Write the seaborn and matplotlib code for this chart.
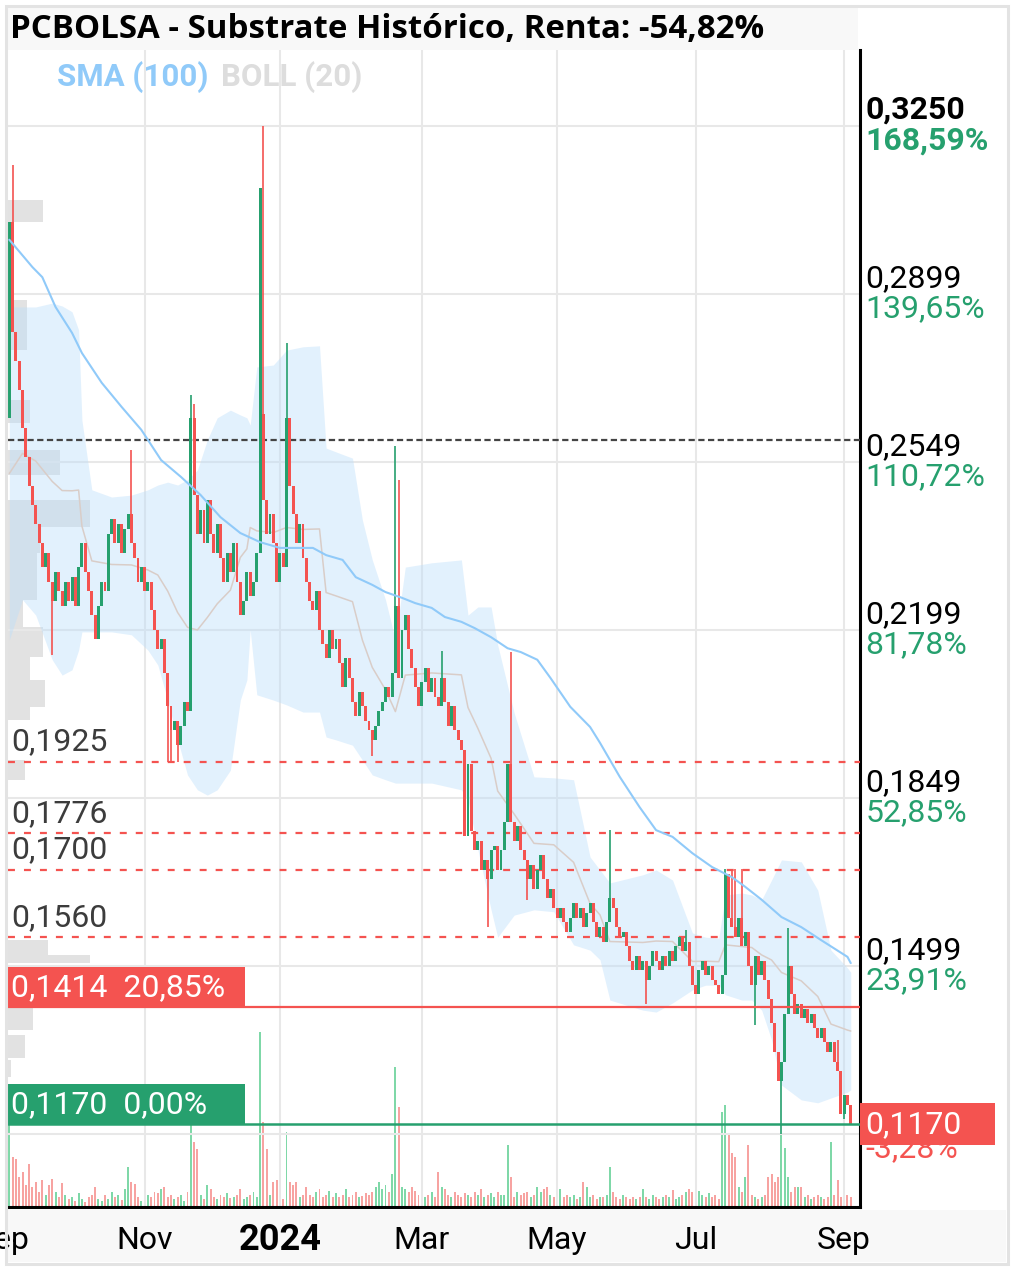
import numpy as np
import pandas as pd
import matplotlib
matplotlib.use("Agg")
import matplotlib.pyplot as plt
import seaborn as sns
from matplotlib.patches import Rectangle
from matplotlib.transforms import blended_transform_factory

# ===== Data =====
start_day = "2023-09-05"
holidays = ["2023-12-25", "2023-12-26", "2024-01-01", "2024-03-29", "2024-04-01", "2024-05-01"]

# daily closes (BME calendar, 5 Sep 2023 -> 4 Sep 2024)
close = [
    0.3050, 0.2820, 0.2760, 0.2700, 0.2620, 0.2560, 0.2500, 0.2460, 0.2420,
    0.2380, 0.2330, 0.2360, 0.2300, 0.2260, 0.2320, 0.2280, 0.2250, 0.2300, 0.2260,
    0.2310, 0.2250, 0.2330, 0.2380, 0.2320, 0.2280, 0.2230, 0.2180, 0.2250, 0.2300,
    0.2280, 0.2400, 0.2430, 0.2380, 0.2420, 0.2360, 0.2410, 0.2440, 0.2380, 0.2350,
    0.2300, 0.2330, 0.2280,
    0.2300, 0.2240, 0.2200, 0.2160, 0.2180, 0.2110, 0.2040, 0.1990, 0.2010, 0.1960,
    0.2000, 0.2050, 0.2030, 0.2640, 0.2480, 0.2400, 0.2450, 0.2380, 0.2470, 0.2400,
    0.2360, 0.2420, 0.2350, 0.2300, 0.2360, 0.2320, 0.2380, 0.2300, 0.2230, 0.2260,
    0.2320, 0.2270, 0.2300, 0.2360, 0.3120, 0.2470, 0.2400, 0.2440,
    0.2380, 0.2300, 0.2360, 0.2330, 0.2640, 0.2500, 0.2440, 0.2380, 0.2420, 0.2350,
    0.2300, 0.2260, 0.2240, 0.2280, 0.2200, 0.2170, 0.2140, 0.2200, 0.2160, 0.2180,
    0.2130, 0.2080, 0.2140, 0.2100, 0.2050, 0.2020, 0.2070, 0.2040, 0.2010, 0.1990,
    0.1970, 0.2000, 0.2030,
    0.2050, 0.2080, 0.2060, 0.2110, 0.2250, 0.2100, 0.2200, 0.2230, 0.2160, 0.2120,
    0.2080, 0.2040, 0.2090, 0.2120, 0.2070, 0.2100, 0.2060, 0.2040, 0.2100, 0.2050,
    0.2000, 0.2040, 0.1990, 0.1970, 0.1950, 0.1770, 0.1920, 0.1780, 0.1740, 0.1760,
    0.1700, 0.1720, 0.1680, 0.1740,
    0.1750, 0.1700, 0.1740, 0.1800, 0.1920, 0.1800, 0.1760, 0.1790, 0.1740, 0.1720,
    0.1680, 0.1710, 0.1660, 0.1700, 0.1730, 0.1680, 0.1640, 0.1660, 0.1620, 0.1600,
    0.1620, 0.1590, 0.1570, 0.1600, 0.1630, 0.1600, 0.1620, 0.1580, 0.1610, 0.1630,
    0.1590, 0.1560, 0.1580, 0.1550, 0.1590, 0.1640, 0.1620,
    0.1580, 0.1560, 0.1570, 0.1540, 0.1510, 0.1490, 0.1520, 0.1490, 0.1510, 0.1470,
    0.1500, 0.1530, 0.1510, 0.1490, 0.1520, 0.1500, 0.1530, 0.1510, 0.1540, 0.1560,
    0.1530, 0.1550, 0.1500, 0.1460, 0.1440, 0.1490, 0.1510, 0.1480, 0.1500, 0.1470,
    0.1460, 0.1440, 0.1480, 0.1690, 0.1600, 0.1580, 0.1560, 0.1600, 0.1540, 0.1570,
    0.1500, 0.1460, 0.1520, 0.1480, 0.1510, 0.1470, 0.1430, 0.1380, 0.1320, 0.1260,
    0.1300, 0.1400, 0.1500, 0.1440, 0.1400, 0.1420, 0.1390, 0.1410, 0.1380, 0.1400,
    0.1370, 0.1350, 0.1370, 0.1340, 0.1320, 0.1340, 0.1300, 0.1280, 0.1190, 0.1230,
    0.1210, 0.1170,
]
first_open = 0.2640
open_gap = {77: 0.2650}
high_wick = {1: 0.3168, 37: 0.2574, 55: 0.2689, 56: 0.2670, 77: 0.3250, 84: 0.2797,
             117: 0.2582, 118: 0.2511, 131: 0.2155, 152: 0.2153, 182: 0.1782,
             205: 0.1575, 217: 0.1701, 219: 0.1701, 220: 0.1701, 222: 0.1701,
             236: 0.1578, 251: 0.1345}
low_wick = {13: 0.2147, 48: 0.1925, 49: 0.1925, 51: 0.1925, 110: 0.1937, 145: 0.1580,
            157: 0.1637, 193: 0.1419, 226: 0.1376, 234: 0.1150, 253: 0.1180}

volume = [
    83, 50, 48, 30, 35, 22, 43, 20, 25, 15,
    27, 12, 22, 28, 15, 10, 24, 12, 8, 10,
    6, 14, 8, 5, 10, 12, 20, 8, 6, 12,
    8, 15, 10, 12, 7, 18, 40, 25, 23, 10,
    6, 8, 12, 10, 15, 14, 18, 20, 10, 12,
    8, 10, 12, 6, 15, 83, 65, 58, 12, 8,
    22, 18, 10, 8, 12, 10, 14, 9, 10, 12,
    18, 8, 10, 12, 15, 10, 175, 85, 58, 12,
    25, 27, 10, 8, 75, 25, 22, 25, 10, 12,
    20, 12, 10, 15, 18, 10, 12, 16, 10, 14,
    10, 12, 18, 10, 12, 15, 10, 11, 14, 12,
    15, 20, 25, 18, 22, 15, 33, 140, 100, 20,
    18, 15, 20, 16, 12, 14, 10, 12, 15, 10,
    35, 20, 18, 12, 10, 15, 12, 10, 14, 12,
    10, 15, 12, 18, 10, 12, 14, 10, 15, 12,
    12, 62, 30, 10, 15, 12, 14, 15, 10, 12,
    20, 15, 18, 20, 12, 10, 15, 18, 10, 12,
    10, 12, 8, 10, 25, 20, 10, 12, 8, 10,
    10, 12, 40, 15, 10, 8, 12, 10, 8, 10,
    8, 10, 18, 10, 8, 12, 10, 8, 10, 12,
    10, 17, 8, 10, 12, 15, 18, 15, 10, 16,
    12, 10, 14, 10, 12, 8, 95, 102, 74, 54,
    50, 20, 15, 30, 62, 12, 10, 8, 10, 12,
    30, 33, 25, 30, 74, 59, 30, 15, 20, 20,
    20, 10, 12, 8, 10, 12, 10, 8, 10, 65,
    12, 27, 10, 8, 12, 10,
]

# SMA(100)
sma_idx = [0, 7, 10, 14, 19, 22, 28, 34, 40, 46, 52, 58, 64, 70, 76, 82, 92, 96, 101,
           105, 110, 114, 119, 123, 128, 132, 137, 141, 146, 151, 155, 160, 164, 170,
           176, 179, 185, 191, 196, 201, 207, 213, 219, 223, 228, 234, 240, 246, 254, 255]
sma_val = [0.3012, 0.2955, 0.2934, 0.2872, 0.2818, 0.2776, 0.2714, 0.2664, 0.2616,
           0.2553, 0.2518, 0.2480, 0.2434, 0.2401, 0.2382, 0.2370, 0.2370, 0.2355,
           0.2345, 0.2309, 0.2293, 0.2278, 0.2266, 0.2255, 0.2245, 0.2226, 0.2216,
           0.2203, 0.2184, 0.2161, 0.2153, 0.2137, 0.2099, 0.2039, 0.1997, 0.1964,
           0.1893, 0.1830, 0.1782, 0.1768, 0.1734, 0.1705, 0.1684, 0.1664, 0.1637,
           0.1601, 0.1580, 0.1553, 0.1518, 0.1505]

# Bollinger (20) bands
boll_idx = [0, 4, 8, 13, 16, 19, 21, 22, 25, 31, 37, 42, 45, 48, 51, 54, 57, 60, 63, 67,
            70, 72, 73, 75, 80, 84, 89, 94, 96, 99, 104, 107, 110, 114, 117, 120, 128,
            137, 139, 142, 146, 148, 153, 159, 165, 171, 176, 179, 182, 192, 196, 201,
            207, 211, 215, 217, 222, 225, 228, 231, 234, 240, 245, 249, 254, 255]
boll_up = [0.2872, 0.2872, 0.2872, 0.2880, 0.2874, 0.2862, 0.2824, 0.2636, 0.2491,
           0.2476, 0.2480, 0.2491, 0.2501, 0.2507, 0.2501, 0.2512, 0.2532, 0.2595,
           0.2641, 0.2657, 0.2647, 0.2641, 0.2626, 0.2747, 0.2751, 0.2782, 0.2789,
           0.2791, 0.2578, 0.2570, 0.2557, 0.2428, 0.2345, 0.2262, 0.2178, 0.2330,
           0.2339, 0.2345, 0.2230, 0.2247, 0.2247, 0.2168, 0.2026, 0.1893, 0.1891,
           0.1887, 0.1726, 0.1699, 0.1672, 0.1689, 0.1699, 0.1678, 0.1568, 0.1559,
           0.1557, 0.1647, 0.1651, 0.1647, 0.1637, 0.1678, 0.1720, 0.1716, 0.1657,
           0.1532, 0.1495, 0.1486]
boll_lo = [0.2178, 0.2262, 0.2230, 0.2137, 0.2105, 0.2116, 0.2157, 0.2195, 0.2195,
           0.2195, 0.2189, 0.2157, 0.2126, 0.2053, 0.1970, 0.1897, 0.1866, 0.1855,
           0.1866, 0.1907, 0.2053, 0.2095, 0.2199, 0.2064, 0.2053, 0.2043, 0.2028,
           0.2028, 0.1976, 0.1970, 0.1959, 0.1928, 0.1897, 0.1887, 0.1880, 0.1880,
           0.1880, 0.1866, 0.1845, 0.1741, 0.1616, 0.1559, 0.1605, 0.1616, 0.1612,
           0.1543, 0.1532, 0.1512, 0.1428, 0.1407, 0.1403, 0.1422, 0.1449, 0.1459,
           0.1459, 0.1439, 0.1428, 0.1428, 0.1407, 0.1345, 0.1251, 0.1220, 0.1214,
           0.1224, 0.1236, 0.1241]

# volume-by-price profile on the left edge
vp_lo = [0.3049, 0.2782, 0.2630, 0.2522, 0.2414, 0.2359, 0.2262, 0.2205, 0.2143,
         0.2095, 0.2039, 0.2012, 0.1887, 0.1522, 0.1505, 0.1366, 0.1307, 0.1268]
vp_hi = [0.3095, 0.2887, 0.2678, 0.2574, 0.2470, 0.2414, 0.2359, 0.2262, 0.2205,
         0.2143, 0.2095, 0.2039, 0.1928, 0.1553, 0.1522, 0.1414, 0.1355, 0.1303]
vp_vol = [35, 19, 22, 52, 82, 32, 29, 15, 35, 22, 37, 22, 17, 40, 82, 25, 17, 3]

grid_prices = [0.3250, 0.2899, 0.2549, 0.2199, 0.1849, 0.1499, 0.1149]
price_labels = ["0,3250", "0,2899", "0,2549", "0,2199", "0,1849", "0,1499"]
pct_labels = ["168,59%", "139,65%", "110,72%", "81,78%", "52,85%", "23,91%"]

level_prices = [0.1925, 0.1776, 0.1700, 0.1560]
level_labels = ["0,1925", "0,1776", "0,1700", "0,1560"]
ref_price = 0.2595

stop_price, stop_text = 0.1414, "0,1414  20,85%"
base_price, base_text = 0.1170, "0,1170  0,00%"
last_price, last_text, last_pct = 0.1170, "0,1170", "-3,28%"

month_days = ["2023-09-01", "2023-11-01", "2024-01-02", "2024-03-01", "2024-05-02",
              "2024-07-01", "2024-09-02"]
month_labels = ["Sep", "Nov", "2024", "Mar", "May", "Jul", "Sep"]

title = "PCBOLSA - Substrate Histórico, Renta: -54,82%"

# ===== Style =====
GREEN = "#26a06e"
RED = "#f45350"
FS = 23
sns.set_theme(style="white")
plt.rcParams['font.family'] = ['Roboto', 'DejaVu Sans']
plt.rcParams['lines.scale_dashes'] = False

W, H = 1013, 1268
fig = plt.figure(figsize=(W / 100, H / 100), dpi=100)
fig.patch.set_facecolor("white")

def fx(px):
    return px / W

def fy(py):
    return 1 - py / H

# background strips + frame
fig.patches.append(Rectangle((fx(8), fy(50)), fx(850), 42 / H, transform=fig.transFigure,
                             facecolor="#f8f8f8", edgecolor="none", zorder=-5))
fig.patches.append(Rectangle((fx(7), fy(1262)), fx(999), 52 / H, transform=fig.transFigure,
                             facecolor="#f8f8f8", edgecolor="none", zorder=-5))
fig.patches.append(Rectangle((fx(5.5), fy(1263.5)), fx(1002), 1258 / H, transform=fig.transFigure,
                             facecolor="none", edgecolor="#e3e3e3", lw=2.2, zorder=20))

ax_top, ax_bot = 50, 1207
axp = fig.add_axes([fx(8), fy(ax_bot), fx(852), (ax_bot - ax_top) / H])
ax = axp.twiny()
axv = ax.twinx()
axp.set_zorder(0)
axv.set_zorder(1)
ax.set_zorder(2)
ax.patch.set_visible(False)
axv.patch.set_visible(False)
axp.set_facecolor("white")

ylim = (0.09969, 0.34073)
xlim = (-0.4, 257.8)
axp.set_ylim(ylim)
ax.set_ylim(ylim)
ax.set_xlim(xlim)

# ===== Candles =====
df = pd.DataFrame({"close": close})
df["open"] = [first_open] + close[:-1]
for k, v in open_gap.items():
    df.loc[k, "open"] = v
df["high"] = df[["open", "close"]].max(axis=1)
df["low"] = df[["open", "close"]].min(axis=1)
for k, v in high_wick.items():
    df.loc[k, "high"] = v
for k, v in low_wick.items():
    df.loc[k, "low"] = v
df["x"] = np.arange(len(df))
df["up"] = df["close"] >= df["open"]
df["color"] = np.where(df["up"], GREEN, RED)
df["volume"] = volume

dates = pd.bdate_range(start_day, periods=len(df), freq="C", holidays=holidays)
month_pos = np.busday_count(start_day, month_days, holidays=holidays)

# volume profile
axp.set_xlim(0, 852)
axp.barh([(a + b) / 2 for a, b in zip(vp_lo, vp_hi)], vp_vol,
         height=[b - a for a, b in zip(vp_lo, vp_hi)], left=0,
         color="#e2e2e2", edgecolor="none")

# gridlines
for g in grid_prices:
    ax.axhline(g, color="#e8e8e8", lw=1.5, zorder=0.5)
for p in month_pos:
    ax.axvline(p, color="#e8e8e8", lw=1.5, zorder=0.5)

# bollinger
b_up = np.array(boll_up)
b_lo = np.array(boll_lo)
ax.fill_between(boll_idx, b_lo, b_up, color="#bbdefb", alpha=0.42, lw=0, zorder=1)
sns.lineplot(x=boll_idx, y=(b_up + b_lo) / 2, ax=ax, color="#d9cdc8", lw=1.1, zorder=2)
sns.lineplot(x=sma_idx, y=sma_val, ax=ax, color="#90caf9", lw=1.5, zorder=6)

# volume bars
vol_col = np.where(df["up"], "#7fd8a8", "#f7a3a1")
axv.bar(df["x"], df["volume"], width=0.6, color=vol_col, edgecolor="none")
axv.set_ylim(0, max(volume) / 0.151)
axv.set_xlim(xlim)

# level lines
for lv in level_prices:
    ax.axhline(lv, color=RED, lw=1.6, dashes=(5, 6.5), zorder=3)
ax.axhline(ref_price, color="#444444", lw=1.6, dashes=(4.5, 2.5), zorder=3)
ax.axhline(stop_price, color=RED, lw=1.6, zorder=7)
ax.axhline(base_price, color=GREEN, lw=1.8, zorder=7)

# candles
ax.vlines(df["x"], df["low"], df["high"], colors=df["color"], lw=1.2, zorder=4)
body = (df["close"] - df["open"]).abs().clip(lower=0.0004)
ax.bar(df["x"], body, bottom=df[["open", "close"]].min(axis=1), width=0.9,
       color=df["color"], edgecolor="none", zorder=5)

for a in (ax, axv, axp):
    a.tick_params(left=False, right=False, top=False, bottom=False,
                  labelleft=False, labelright=False, labeltop=False, labelbottom=False)
    for s in a.spines.values():
        s.set_visible(False)
    a.set_xlabel("")
    a.set_ylabel("")
ax.spines["right"].set_visible(True)
ax.spines["right"].set_color("black")
ax.spines["right"].set_linewidth(2.2)
ax.spines["bottom"].set_visible(True)
ax.spines["bottom"].set_color("black")
ax.spines["bottom"].set_linewidth(2.2)

ytr = blended_transform_factory(ax.transAxes, ax.transData)
xtr = blended_transform_factory(ax.transData, ax.transAxes)

# right price axis labels
for i, (pl, pc) in enumerate(zip(price_labels, pct_labels)):
    w = "bold" if i == 0 else "normal"
    ax.annotate(pl, xy=(1, grid_prices[i]), xycoords=ytr, xytext=(4.0, 11.2),
                textcoords="offset points", ha="left", va="center", fontsize=FS,
                color="black", fontweight=w, annotation_clip=False)
    ax.annotate(pc, xy=(1, grid_prices[i]), xycoords=ytr, xytext=(4.0, -10.8),
                textcoords="offset points", ha="left", va="center", fontsize=FS,
                color=GREEN, fontweight=w, annotation_clip=False)

# last price tag
ax.annotate(last_pct, xy=(1, last_price), xycoords=ytr, xytext=(4.0, -17.5),
            textcoords="offset points", ha="left", va="center", fontsize=FS,
            color=RED, annotation_clip=False, zorder=9)
ax.add_patch(Rectangle((1, last_price - 21 / 4800), 135 / 852, 42 / 4800, transform=ytr,
                       facecolor=RED, edgecolor="none", clip_on=False, zorder=10))
ax.annotate(last_text, xy=(1, last_price), xycoords=ytr, xytext=(4.0, -0.5),
            textcoords="offset points", ha="left", va="center", fontsize=FS,
            color="white", annotation_clip=False, zorder=11)

# left level labels
for lv, lt in zip(level_prices, level_labels):
    ax.annotate(lt, xy=(0, lv), xycoords=ytr, xytext=(2.5, 14), textcoords="offset points",
                ha="left", va="center", fontsize=FS, color="#3c3c3c", zorder=8)

# left boxes
for pr, txt, col in [(stop_price, stop_text, RED), (base_price, base_text, GREEN)]:
    ax.add_patch(Rectangle((0, pr), 237 / 852, 40 / 4800, transform=ytr,
                           facecolor=col, edgecolor="none", zorder=8))
    ax.annotate(txt, xy=(0, pr), xycoords=ytr, xytext=(2.5, 13.8), textcoords="offset points",
                ha="left", va="center", fontsize=FS, color="white", zorder=9)

# month labels
for p, lab in zip(month_pos, month_labels):
    bold = lab == "2024"
    ax.annotate(lab, xy=(p, 0), xycoords=xtr, xytext=(0, -24), textcoords="offset points",
                ha="center", va="center", fontsize=26 if bold else FS, color="black",
                fontweight="bold" if bold else "normal", annotation_clip=False)

# title + legend
fig.text(fx(10), fy(29), title, fontsize=23.8, fontweight="bold", family=["Open Sans", "DejaVu Sans"],
         ha="left", va="center", color="black")
fig.text(fx(57), fy(77), "SMA (100)", fontsize=22.5, fontweight="bold", color="#90caf9",
         ha="left", va="center")
fig.text(fx(221), fy(77), "BOLL (20)", fontsize=22.5, fontweight="bold", color="#dddddd",
         ha="left", va="center")

fig.savefig("out.png", dpi=100)
